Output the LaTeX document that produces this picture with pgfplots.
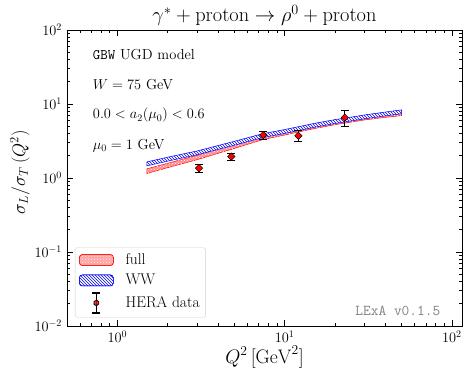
\documentclass[border=0pt]{standalone}
\usepackage{pgfplots}
\pgfplotsset{compat=1.18}
\usepackage{pgfplotstable}
\usepgfplotslibrary{fillbetween}
\usetikzlibrary{patterns}

% Q2, lower, upper edge of the bands
\pgfplotstableread{
q2   lo    hi
1.5  1.15  1.33
2    1.38  1.58
3    1.77  2.03
5    2.51  2.89
7.4  3.30  3.80
10   3.81  4.39
15   4.65  5.35
20   5.25  6.05
30   6.09  7.01
40   6.60  7.60
50   6.98  8.03
}\fulltab

\pgfplotstableread{
q2   lo    hi
1.5  1.46  1.65
2    1.69  1.91
3    2.06  2.32
5    2.77  3.13
7.4  3.52  3.97
10   4.00  4.51
15   4.84  5.46
20   5.45  6.15
30   6.30  7.10
40   6.91  7.79
50   7.38  8.32
}\wwtab

\pgfplotstableread{
q2    s     e
3.08  1.36  0.16
4.8   1.95  0.22
7.45  3.80  0.45
12.1  3.72  0.62
22.9  6.55  1.60
}\heratab

\tikzset{
  fullband/.style={draw=red, line width=0.5pt, fill=red!45,
    postaction={pattern=crosshatch dots, pattern color=white}},
  wwband/.style={draw=blue, line width=0.5pt, fill=white,
    postaction={pattern=north west lines, pattern color=blue}},
}

\begin{document}
\fontsize{14.5}{17}\selectfont
\begin{tikzpicture}
\begin{axis}[
    scale only axis,
    width=395pt, height=296pt,
    xmode=log, ymode=log,
    xmin=0.5, xmax=115,
    ymin=0.01, ymax=100,
    tick align=inside,
    major tick length=6pt,
    minor tick length=3pt,
    axis line style={line width=0.9pt},
    every tick/.style={black, line width=0.6pt},
    tick label style={font=\fontsize{14}{16}\selectfont},
    title={\scalebox{1.18}{$\gamma^* + \mathrm{proton} \rightarrow \rho^0 + \mathrm{proton}$}},
    title style={font=\fontsize{17.28}{20}\selectfont, at={(axis description cs:0.5,1)}, anchor=base, yshift=2.5pt},
    xlabel={\scalebox{1.13}{$Q^2\,[\mathrm{GeV}^2]$}},
    xlabel style={font=\fontsize{17.28}{20}\selectfont, at={(axis description cs:0.5,-0.105)}, anchor=center},
    ylabel={\scalebox{1.05}{$\sigma_L/\sigma_T\,(Q^2)$}},
    ylabel style={font=\fontsize{17.28}{20}\selectfont, at={(axis description cs:-0.119,0.52)}, anchor=center},
    legend style={at={(axis description cs:0.02,0.028)}, anchor=south west,
      draw=gray!35, rounded corners=3pt, fill=white, fill opacity=0.8, text opacity=1,
      font=\fontsize{15.5}{18}\selectfont, row sep=3.5pt, inner sep=4pt,
      /tikz/every odd column/.append style={column sep=10pt}},
    legend cell align=left,
]
\addplot[name path=flo, draw=none, forget plot] table[x=q2, y=lo] {\fulltab};
\addplot[name path=fhi, draw=none, forget plot] table[x=q2, y=hi] {\fulltab};
\addplot[fullband, forget plot] fill between[of=fhi and flo];
\addplot[name path=wlo, draw=none, forget plot] table[x=q2, y=lo] {\wwtab};
\addplot[name path=whi, draw=none, forget plot] table[x=q2, y=hi] {\wwtab};
\addplot[wwband, forget plot] fill between[of=whi and wlo];

\addlegendimage{legend image code/.code={\draw[fullband] (0pt,-5.5pt) rectangle (34pt,5.5pt);}}
\addlegendentry{full}
\addlegendimage{legend image code/.code={\draw[wwband] (0pt,-5.5pt) rectangle (34pt,5.5pt);}}
\addlegendentry{WW}
\addlegendimage{legend image code/.code={
  \draw[black, line width=1.2pt] (17pt,-10pt) -- (17pt,10pt);
  \draw[black, line width=1.2pt] (13pt,-10pt) -- (21pt,-10pt);
  \draw[black, line width=1.2pt] (13pt,10pt) -- (21pt,10pt);
  \fill[red, draw=black, line width=0.5pt] (17pt,-3.6pt) -- (20.6pt,0pt) -- (17pt,3.6pt) -- (13.4pt,0pt) -- cycle;}}
\addlegendentry{HERA data}

\addplot[only marks, mark=square*, mark size=2.6pt,
  mark options={rotate=45, fill=red, draw=black, line width=0.5pt},
  forget plot,
  error bars/.cd, y dir=both, y explicit,
  error bar style={black, line width=1.2pt},
  error mark options={rotate=90, black, mark size=4pt, line width=1.2pt}]
  table[x=q2, y=s, y error=e] {\heratab};

\node[anchor=west] at (axis description cs:0.053,0.918) {\texttt{GBW} UGD model};
\node[anchor=west] at (axis description cs:0.053,0.815) {$W = 75$ GeV};
\node[anchor=west] at (axis description cs:0.053,0.712) {$0.0 < a_2(\mu_0) < 0.6$};
\node[anchor=west] at (axis description cs:0.053,0.609) {$\mu_0 = 1$ GeV};
\node[anchor=east, text=gray, font=\fontsize{15}{17}\ttfamily] at (axis description cs:0.958,0.052) {LExA v0.1.5};
\end{axis}
\pgfresetboundingbox
\path[use as bounding box] (-67pt,-52pt) rectangle (406pt,326pt);
\end{tikzpicture}
\end{document}
